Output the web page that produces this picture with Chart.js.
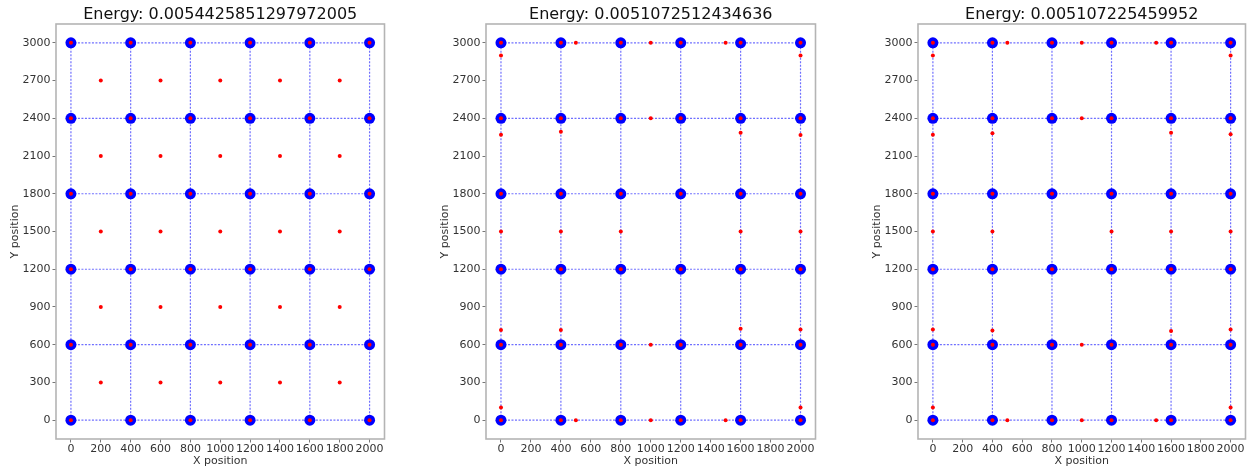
<!DOCTYPE html>
<html>
<head>
<meta charset="utf-8">
<script src="https://cdn.jsdelivr.net/npm/chart.js@4.4.0/dist/chart.umd.min.js"></script>
<style>
   html, body { margin: 0; padding: 0; background: #fff; }
   body { width: 1251px; height: 468px; position: relative; overflow: hidden; }
   .panel { position: absolute; top: 0; height: 468px; }
   .panel canvas { display: block; }
</style>
</head>
<body>
<div class="panel" style="left:0px;width:390px"><canvas id="c1" width="390" height="468"></canvas></div>
<div class="panel" style="left:430px;width:391px"><canvas id="c2" width="391" height="468"></canvas></div>
<div class="panel" style="left:862px;width:389px"><canvas id="c3" width="389" height="468"></canvas></div>
<script>
// grid of nodes (blue) shared by all three panels
const nodeX = [0, 400, 800, 1200, 1600, 2000];
const nodeY = [0, 600, 1200, 1800, 2400, 3000];

// panel 1: red points in cell centres
const centerX = [200, 600, 1000, 1400, 1800];
const centerY = [300, 900, 1500, 2100, 2700];

// panel 2: red points sitting on the edges
const redX2 = [500, 1000, 1500, 0, 0, 0, 0, 0, 2000, 2000, 2000, 2000, 2000, 400, 400, 400, 800, 1600, 1600, 1600, 1000, 1000, 500, 1000, 1500];
const redY2 = [3000, 3000, 3000, 2900, 2270, 1500, 717, 100, 2900, 2267, 1500, 720, 100, 2294, 1500, 717, 1500, 2286, 1500, 727, 2400, 600, 0, 0, 0];

// panel 3
const redX3 = [500, 1000, 1500, 0, 0, 0, 0, 0, 2000, 2000, 2000, 2000, 2000, 400, 400, 400, 1200, 1600, 1600, 1600, 1000, 1000, 500, 1000, 1500];
const redY3 = [3000, 3000, 3000, 2900, 2270, 1500, 721, 100, 2900, 2273, 1500, 721, 100, 2281, 1500, 713, 1500, 2286, 1500, 709, 2400, 600, 0, 0, 0];

const titles = [
   'Energy: 0.0054425851297972005',
   'Energy: 0.0051072512434636',
   'Energy: 0.005107225459952'
];

const xTicks = [0, 200, 400, 600, 800, 1000, 1200, 1400, 1600, 1800, 2000];
const yTicks = [0, 300, 600, 900, 1200, 1500, 1800, 2100, 2400, 2700, 3000];

const FONT = 'DejaVu Sans';
const LINE_COLOR = 'rgba(50,50,255,0.7)';

const gridPoints = (xs, ys) => {
   const arr = [];
   for (let y of ys) for (let x of xs) arr.push({ x: x, y: y });
   return arr;
}

const zipPoints = (xs, ys) => xs.map((x, i) => ({ x: x, y: ys[i] }));

const getLineDatasets = () => {
   const datasets = [];
   const lineStyle = (data) => ({
      data: data,
      showLine: true,
      borderColor: LINE_COLOR,
      borderWidth: 1.2,
      borderDash: [2, 1.5],
      pointRadius: 0,
      fill: false,
      order: 3,
   });
   for (let y of nodeY) datasets.push(lineStyle([{ x: nodeX[0], y: y }, { x: nodeX[nodeX.length - 1], y: y }]));
   for (let x of nodeX) datasets.push(lineStyle([{ x: x, y: nodeY[0] }, { x: x, y: nodeY[nodeY.length - 1] }]));
   return datasets;
}

// frame round the plot area, like the matplotlib axes box
const framePlugin = {
   id: 'frame',
   afterDraw(chart) {
      const { ctx, chartArea } = chart;
      ctx.save();
      ctx.strokeStyle = '#b4b4b4';
      ctx.lineWidth = 1.6;
      ctx.strokeRect(chartArea.left, chartArea.top, chartArea.right - chartArea.left, chartArea.bottom - chartArea.top);
      ctx.restore();
   }
}

const createChart = (id, title, redPoints) => {
   const nodes = gridPoints(nodeX, nodeY);
   const datasets = getLineDatasets();
   datasets.push({
      data: nodes,
      pointRadius: 5.5,
      pointBackgroundColor: '#0000ff',
      pointBorderWidth: 0,
      order: 2,
   });
   datasets.push({
      data: nodes.concat(redPoints),
      pointRadius: 2,
      pointBackgroundColor: '#ff0000',
      pointBorderWidth: 0,
      order: 1,
   });

   const config = {
      type: 'scatter',
      data: { datasets: datasets },
      plugins: [framePlugin],
      options: {
         responsive: false,
         animation: false,
         layout: { padding: { right: 3, left: 0, top: 0, bottom: 0 } },
         plugins: {
            legend: { display: false },
            tooltip: { enabled: false },
            title: {
               display: true,
               fullSize: false,
               text: title,
               color: '#111',
               font: { family: FONT, size: 16, weight: 'normal', lineHeight: 1 },
               padding: { top: 7, bottom: 1 },
            },
         },
         scales: {
            x: {
               type: 'linear',
               min: -100,
               max: 2100,
               afterFit: (scale) => { scale.height = 29; },
               afterBuildTicks: (scale) => { scale.ticks = xTicks.map(v => ({ value: v })); },
               border: { display: false },
               grid: { drawOnChartArea: false, drawTicks: true, tickLength: 3.5, tickColor: '#777' },
               ticks: {
                  color: '#333',
                  padding: 0,
                  maxRotation: 0,
                  autoSkip: false,
                  font: { family: FONT, size: 11 },
                  callback: (v) => String(v),
               },
               title: {
                  display: true,
                  text: 'X position',
                  color: '#333',
                  padding: 0,
                  font: { family: FONT, size: 11 },
               },
            },
            y: {
               type: 'linear',
               min: -150,
               max: 3150,
               afterFit: (scale) => { scale.width = 56; },
               afterBuildTicks: (scale) => { scale.ticks = yTicks.map(v => ({ value: v })); },
               border: { display: false },
               grid: { drawOnChartArea: false, drawTicks: true, tickLength: 3.5, tickColor: '#777' },
               ticks: {
                  color: '#333',
                  padding: 2,
                  autoSkip: false,
                  font: { family: FONT, size: 11 },
                  callback: (v) => String(v),
               },
               title: {
                  display: true,
                  text: 'Y position',
                  color: '#333',
                  padding: { top: 9, bottom: 0 },
                  font: { family: FONT, size: 11 },
               },
            },
         },
      },
   };
   const ctx = document.getElementById(id).getContext('2d');
   return new Chart(ctx, config);
}

createChart('c1', titles[0], gridPoints(centerX, centerY));
createChart('c2', titles[1], zipPoints(redX2, redY2));
createChart('c3', titles[2], zipPoints(redX3, redY3));
</script>
</body>
</html>
